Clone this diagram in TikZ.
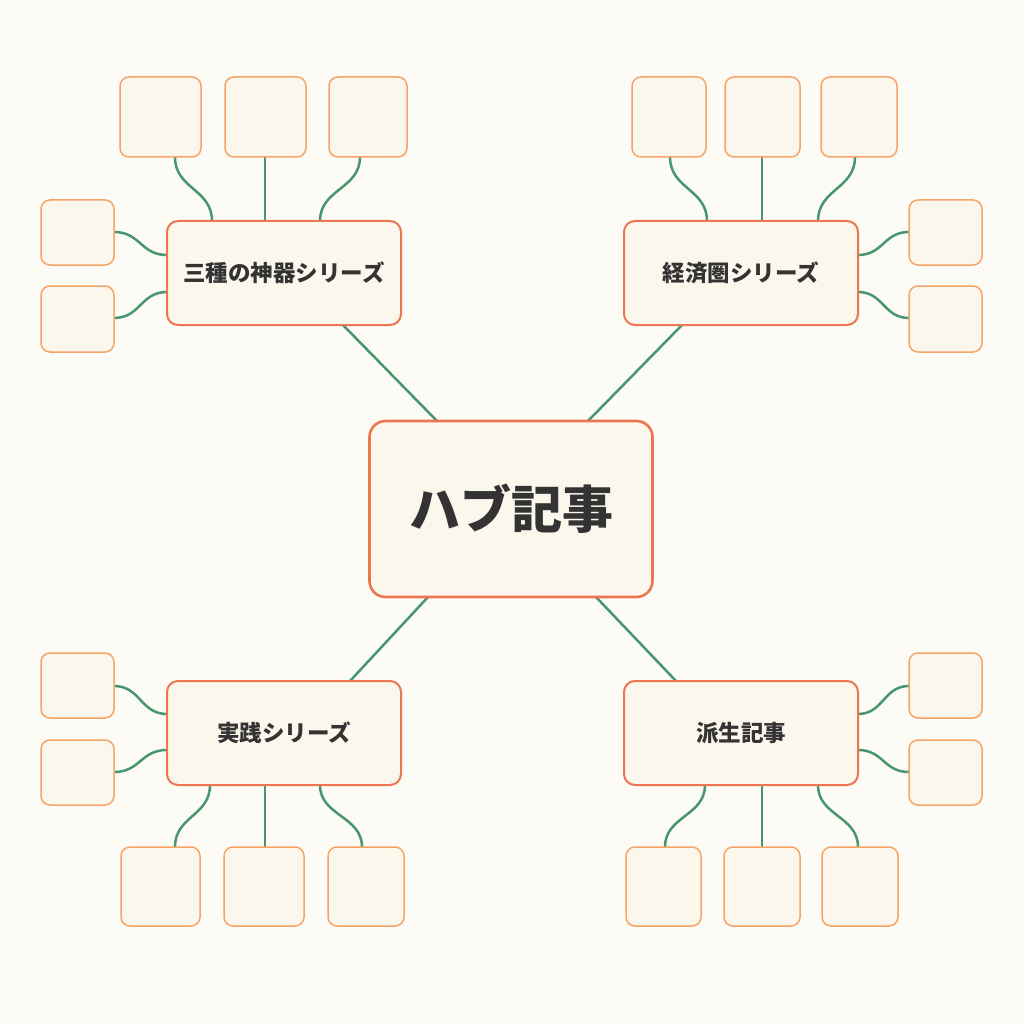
\documentclass[tikz,border=0pt]{standalone}
\usepackage{fontspec}
\setmainfont{Noto Sans CJK JP}
\definecolor{bg}{RGB}{253,251,246}
\definecolor{fillc}{RGB}{252,247,237}
\definecolor{ora}{RGB}{236,118,80}
\definecolor{lora}{RGB}{246,164,104}
\definecolor{grn}{RGB}{72,150,110}
\tikzset{
 hub/.style={draw=ora,line width=2.6pt,fill=fillc,rounded corners=16pt,minimum width=283pt,minimum height=176pt,font=\fontsize{51}{56}\selectfont\bfseries,text=black!80},
 sub/.style={draw=ora,line width=2pt,fill=fillc,rounded corners=11pt,minimum width=234pt,minimum height=104pt,font=\fontsize{22.5}{26}\selectfont\bfseries,text=black!80},
 leaf/.style={draw=lora,line width=1.5pt,fill=fillc,rounded corners=9pt},
 link/.style={draw=grn,line width=2.5pt}
}
\newcommand{\lv}[4]{\draw[link] (#1,#2) .. controls (#1,{(#2+#4)/2}) and (#3,{(#2+#4)/2}) .. (#3,#4);}
\newcommand{\lh}[4]{\draw[link] (#1,#2) .. controls ({(#1+#3)/2},#2) and ({(#1+#3)/2},#4) .. (#3,#4);}
\newcommand{\lf}[5]{\node[leaf,minimum width=#3pt,minimum height=#4pt] (#5) at (#1,#2) {};}
\begin{document}
\begin{tikzpicture}[x=1pt,y=-1pt]
\fill[bg] (0,0) rectangle (1024,1024);
\useasboundingbox (0,0) rectangle (1024,1024);
% links
\draw[link] (437,421)--(343,325);
\draw[link] (588,421)--(682,325);
\draw[link] (428,597)--(350,681);
\draw[link] (596,597)--(676,681);
\lv{175}{157}{212}{221}\lv{265}{157}{265}{221}\lv{360}{157}{320}{221}
\lh{114}{232}{167}{255}\lh{114}{318}{167}{292}
\lv{670}{157}{707}{221}\lv{762}{157}{762}{221}\lv{855}{157}{818}{221}
\lh{909}{232}{858}{255}\lh{909}{318}{858}{292}
\lh{114}{686}{167}{714}\lh{114}{772}{167}{750}
\lv{175}{847}{210}{785}\lv{265}{847}{265}{785}\lv{362}{847}{320}{785}
\lh{909}{686}{858}{714}\lh{909}{772}{858}{750}
\lv{665}{847}{705}{785}\lv{762}{847}{762}{785}\lv{858}{847}{818}{785}
% nodes
\node[hub] (hub) at (511,509) {ハブ記事};
\node[sub] (s1) at (284,273) {三種の神器シリーズ};
\node[sub] (s2) at (741,273) {経済圏シリーズ};
\node[sub] (s3) at (284,733) {実践シリーズ};
\node[sub] (s4) at (741,733) {派生記事};
\lf{160.5}{117}{81}{80}{a1}\lf{265.5}{117}{81}{80}{a2}\lf{368}{117}{78}{80}{a3}
\lf{77.5}{232.5}{73}{65}{a4}\lf{77.5}{319}{73}{66}{a5}
\lf{669}{117}{74}{80}{b1}\lf{762.5}{117}{75}{80}{b2}\lf{859}{117}{76}{80}{b3}
\lf{945.5}{232.5}{73}{65}{b4}\lf{945.5}{319}{73}{66}{b5}
\lf{77.5}{685.5}{73}{65}{c1}\lf{77.5}{772.5}{73}{65}{c2}
\lf{160.5}{886.5}{79}{79}{c3}\lf{264}{886.5}{80}{79}{c4}\lf{366}{886.5}{76}{79}{c5}
\lf{945.5}{685.5}{73}{65}{d1}\lf{945.5}{772.5}{73}{65}{d2}
\lf{663.5}{886.5}{75}{79}{d3}\lf{762}{886.5}{76}{79}{d4}\lf{860}{886.5}{76}{79}{d5}
\end{tikzpicture}
\end{document}
